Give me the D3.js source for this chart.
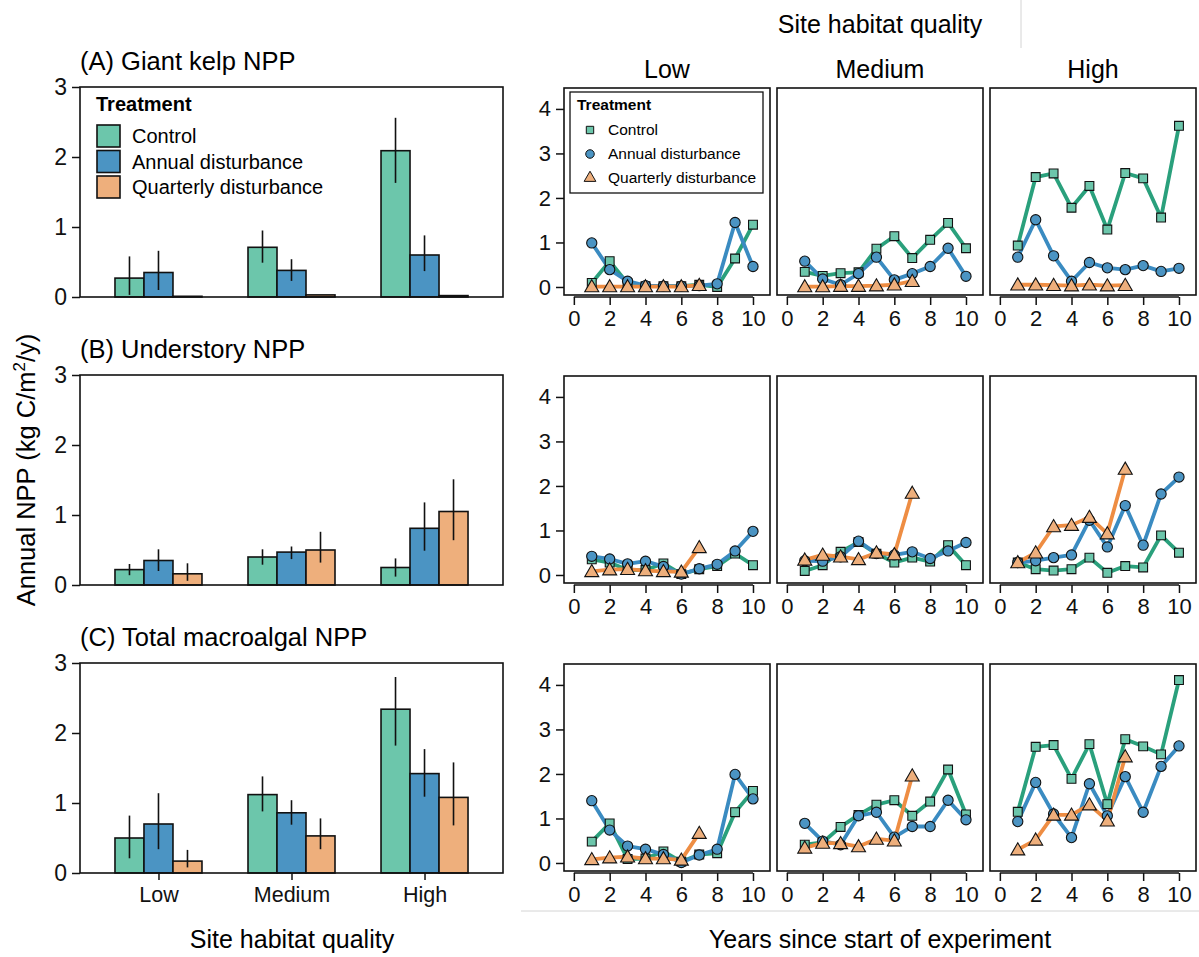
<!DOCTYPE html>
<html>
<head>
<meta charset="utf-8">
<script src="https://d3js.org/d3.v7.min.js"></script>
<style>
  body { margin: 0; background: #fff; }
  svg, svg text { font-family: "Liberation Sans", Arial, Helvetica, sans-serif; }
</style>
</head>
<body>
<div id="chart"></div>
<script>
// ---- data ----
const sites = ["Low", "Medium", "High"];
const treatments = ["Control", "Annual disturbance", "Quarterly disturbance"];
const panelTitles = ["(A) Giant kelp NPP", "(B) Understory NPP", "(C) Total macroalgal NPP"];
const years = [1, 2, 3, 4, 5, 6, 7, 8, 9, 10];
const barTicks = [0, 1, 2, 3];
const lineYTicks = [0, 1, 2, 3, 4];
const lineXTicks = [0, 2, 4, 6, 8, 10];

// bar means [site][treatment], and error bar ends
const kelpMean = [[0.27, 0.35, 0.01], [0.71, 0.38, 0.03], [2.09, 0.60, 0.02]];
const kelpLo   = [[0.03, 0.10, 0.01], [0.49, 0.23, 0.03], [1.63, 0.37, 0.02]];
const kelpHi   = [[0.58, 0.66, 0.01], [0.95, 0.54, 0.03], [2.56, 0.88, 0.02]];
const underMean = [[0.22, 0.35, 0.16], [0.40, 0.47, 0.50], [0.25, 0.81, 1.05]];
const underLo   = [[0.14, 0.20, 0.06], [0.29, 0.37, 0.32], [0.12, 0.49, 0.64]];
const underHi   = [[0.30, 0.51, 0.31], [0.51, 0.55, 0.76], [0.38, 1.18, 1.51]];
const totalMean = [[0.50, 0.70, 0.17], [1.12, 0.86, 0.53], [2.34, 1.42, 1.08]];
const totalLo   = [[0.21, 0.34, 0.08], [0.88, 0.69, 0.34], [1.82, 1.09, 0.68]];
const totalHi   = [[0.82, 1.14, 0.33], [1.38, 1.04, 0.78], [2.80, 1.77, 1.58]];

// yearly series [site] -> [control, annual, quarterly(years 1-7)]
const kelpYears = [
  [[0.09, 0.58, 0.08, 0.02, 0.02, 0.02, 0.05, 0.00, 0.64, 1.40],
   [0.99, 0.39, 0.13, 0.03, 0.02, 0.02, 0.03, 0.07, 1.45, 0.46],
   [0.01, 0.01, 0.01, 0.01, 0.01, 0.01, 0.04]],
  [[0.34, 0.25, 0.31, 0.33, 0.86, 1.14, 0.65, 1.06, 1.44, 0.87],
   [0.58, 0.18, 0.05, 0.30, 0.67, 0.16, 0.30, 0.46, 0.87, 0.24],
   [0.01, 0.01, 0.02, 0.02, 0.03, 0.05, 0.13]],
  [[0.93, 2.47, 2.55, 1.78, 2.27, 1.29, 2.56, 2.44, 1.56, 3.62],
   [0.67, 1.51, 0.70, 0.13, 0.55, 0.43, 0.39, 0.48, 0.35, 0.42],
   [0.05, 0.05, 0.04, 0.03, 0.05, 0.03, 0.04]]
];
const underYears = [
  [[0.35, 0.28, 0.11, 0.11, 0.26, 0.02, 0.13, 0.20, 0.48, 0.22],
   [0.42, 0.36, 0.25, 0.31, 0.19, 0.02, 0.14, 0.24, 0.54, 0.98],
   [0.08, 0.12, 0.13, 0.10, 0.08, 0.07, 0.62]],
  [[0.09, 0.22, 0.52, 0.74, 0.48, 0.28, 0.39, 0.30, 0.67, 0.22],
   [0.32, 0.31, 0.41, 0.76, 0.48, 0.45, 0.52, 0.37, 0.54, 0.73],
   [0.34, 0.45, 0.41, 0.35, 0.50, 0.46, 1.84]],
  [[0.28, 0.13, 0.10, 0.13, 0.39, 0.05, 0.20, 0.17, 0.89, 0.50],
   [0.28, 0.32, 0.39, 0.45, 1.23, 0.63, 1.56, 0.67, 1.82, 2.20],
   [0.28, 0.50, 1.09, 1.12, 1.30, 0.93, 2.38]]
];
const totalYears = [
  [[0.48, 0.89, 0.09, 0.10, 0.26, 0.03, 0.19, 0.22, 1.14, 1.62],
   [1.40, 0.74, 0.38, 0.31, 0.19, 0.01, 0.18, 0.31, 1.99, 1.44],
   [0.08, 0.12, 0.14, 0.10, 0.10, 0.07, 0.67]],
  [[0.41, 0.46, 0.81, 1.08, 1.31, 1.41, 1.06, 1.38, 2.10, 1.09],
   [0.89, 0.49, 0.41, 1.06, 1.14, 0.58, 0.82, 0.82, 1.41, 0.97],
   [0.34, 0.45, 0.44, 0.37, 0.54, 0.50, 1.96]],
  [[1.15, 2.61, 2.65, 1.89, 2.67, 1.32, 2.78, 2.62, 2.44, 4.11],
   [0.93, 1.81, 1.10, 0.57, 1.78, 1.06, 1.94, 1.14, 2.17, 2.63],
   [0.30, 0.52, 1.08, 1.08, 1.31, 0.95, 2.39]]
];

const fillCol = ["#6cc6ab", "#4b94c3", "#eeaf7c"];
const lineCol = ["#2aa07c", "#3a8bc1", "#ee8d43"];

const barSets = [
  {mean: kelpMean, lo: kelpLo, hi: kelpHi},
  {mean: underMean, lo: underLo, hi: underHi},
  {mean: totalMean, lo: totalLo, hi: totalHi}
];
const lineSets = [kelpYears, underYears, totalYears];

// ---- layout ----
const W = 1199, H = 957;
const rowTops = [87, 375, 663];
const barH = 210, barL = 80, barR = 503;
const lineTops = [88, 376, 664];
const lineH = 207, lineW = 206;
const colLefts = [564, 777, 990];
const FONT = "Liberation Sans, Arial, Helvetica, sans-serif";

const svg = d3.select("#chart").append("svg")
  .attr("width", W).attr("height", H);

function styleAxis(a, size) {
  a.attr("font-family", FONT).attr("font-size", size);
  a.select(".domain").remove();
  a.selectAll("line").attr("stroke", "#111").attr("stroke-width", 1.5);
  a.selectAll("text").attr("fill", "#111");
}

// ---- left bar panels ----
const xs = d3.scalePoint(sites, [barL, barR]).padding(0.59);
const xin = d3.scaleBand(treatments, [-43.5, 43.5]);

barSets.forEach(function(set, r) {
  const top = rowTops[r], bot = top + barH;
  const ys = d3.scaleLinear([0, 3], [bot, top]);
  const g = svg.append("g");

  g.append("text").attr("x", barL).attr("y", top - 17)
    .style("font-size", "25.5px").text(panelTitles[r]);

  sites.forEach(function(s, i) {
    treatments.forEach(function(t, j) {
      const v = set.mean[i][j];
      g.append("rect")
        .attr("x", xs(s) + xin(t)).attr("width", xin.bandwidth())
        .attr("y", ys(v)).attr("height", ys(0) - ys(v))
        .attr("fill", fillCol[j]).attr("stroke", "#111").attr("stroke-width", 1.6);
      g.append("line")
        .attr("x1", xs(s) + xin(t) + xin.bandwidth() / 2)
        .attr("x2", xs(s) + xin(t) + xin.bandwidth() / 2)
        .attr("y1", ys(set.lo[i][j])).attr("y2", ys(set.hi[i][j]))
        .attr("stroke", "#111").attr("stroke-width", 1.6);
    });
  });

  g.append("rect").attr("x", barL).attr("y", top)
    .attr("width", barR - barL).attr("height", barH)
    .attr("fill", "none").attr("stroke", "#111").attr("stroke-width", 1.6);

  const ya = g.append("g").attr("transform", "translate(" + barL + ",0)")
    .call(d3.axisLeft(ys).tickValues(barTicks).tickFormat(d3.format("d"))
      .tickSize(8).tickSizeOuter(0).tickPadding(5));
  styleAxis(ya, 23);

  if (r === 2) {
    const xa = g.append("g").attr("transform", "translate(0," + bot + ")")
      .call(d3.axisBottom(xs).tickSize(7).tickSizeOuter(0).tickPadding(7));
    styleAxis(xa, 21.5);
  }

  if (r === 0) {
    const lg = g.append("g").attr("transform", "translate(96," + (top + 24) + ")");
    lg.append("text").attr("x", 0).attr("y", 0)
      .style("font-size", "20px").style("font-weight", "bold").text("Treatment");
    treatments.forEach(function(t, j) {
      lg.append("rect").attr("x", 1).attr("y", 14 + j * 25.5)
        .attr("width", 23).attr("height", 22)
        .attr("fill", fillCol[j]).attr("stroke", "#111").attr("stroke-width", 1.6);
      lg.append("text").attr("x", 36).attr("y", 32 + j * 25.5)
        .style("font-size", "20px").text(t);
    });
  }
});

svg.append("text").attr("x", 292).attr("y", 948)
  .attr("text-anchor", "middle").style("font-size", "25px").text("Site habitat quality");

const yl = svg.append("text")
  .attr("transform", "translate(35,470) rotate(-90)")
  .attr("text-anchor", "middle").style("font-size", "25.5px");
yl.append("tspan").text("Annual NPP (kg C/m");
yl.append("tspan").attr("dy", -10).style("font-size", "17px").text("2");
yl.append("tspan").attr("dy", 10).text("/y)");

// ---- right line panels ----
const sym = [d3.symbolSquare, d3.symbolCircle, d3.symbolTriangle];
const symSize = [78, 82, 85];

lineSets.forEach(function(set, r) {
  const top = lineTops[r], bot = top + lineH;
  const ys = d3.scaleLinear([-0.18, 4.47], [bot, top]);
  sites.forEach(function(s, c) {
    const left = colLefts[c];
    const xl = d3.scaleLinear([-0.55, 10.95], [left, left + lineW]);
    const g = svg.append("g");
    const line = d3.line().x(function(d, i) { return xl(years[i]); })
      .y(function(d) { return ys(d); });

    set[c].forEach(function(vals, j) {
      g.append("path").datum(vals).attr("d", line)
        .attr("fill", "none").attr("stroke", lineCol[j])
        .attr("stroke-width", 3.8).attr("stroke-linejoin", "round");
    });
    set[c].forEach(function(vals, j) {
      g.selectAll(null).data(vals).enter().append("path")
        .attr("transform", function(d, i) {
          return "translate(" + xl(years[i]) + "," + (ys(d) + (j === 2 ? 1.2 : 0)) + ")";
        })
        .attr("d", d3.symbol(sym[j], symSize[j]))
        .attr("fill", fillCol[j]).attr("stroke", "#111").attr("stroke-width", 1.1);
    });

    g.append("rect").attr("x", left).attr("y", top)
      .attr("width", lineW).attr("height", lineH)
      .attr("fill", "none").attr("stroke", "#111").attr("stroke-width", 1.6);

    const xa = g.append("g").attr("transform", "translate(0," + (bot + 2) + ")")
      .call(d3.axisBottom(xl).tickValues(lineXTicks).tickSize(8).tickSizeOuter(0).tickPadding(5));
    styleAxis(xa, 22);
    xa.append("line").attr("x1", xl(0)).attr("x2", xl(10))
      .attr("stroke", "#111").attr("stroke-width", 1.5);

    if (c === 0) {
      const ya = g.append("g").attr("transform", "translate(" + left + ",0)")
        .call(d3.axisLeft(ys).tickValues(lineYTicks).tickFormat(d3.format("d"))
          .tickSize(8).tickSizeOuter(0).tickPadding(5));
      styleAxis(ya, 22);
    }

    if (r === 0) {
      svg.append("text").attr("x", left + lineW / 2).attr("y", top - 10)
        .attr("text-anchor", "middle").style("font-size", "25px").text(s);
    }

    if (r === 0 && c === 0) {
      const lg = g.append("g");
      lg.append("rect").attr("x", left + 6).attr("y", top + 4)
        .attr("width", 193).attr("height", 101)
        .attr("fill", "#fff").attr("stroke", "#111").attr("stroke-width", 1.3);
      lg.append("text").attr("x", left + 13).attr("y", top + 22)
        .style("font-size", "15.5px").style("font-weight", "bold").text("Treatment");
      treatments.forEach(function(t, j) {
        const yy = top + 42 + j * 24;
        lg.append("path").attr("transform", "translate(" + (left + 26) + "," + yy + ")")
          .attr("d", d3.symbol(sym[j], symSize[j] * 0.7))
          .attr("fill", fillCol[j]).attr("stroke", "#111").attr("stroke-width", 1);
        lg.append("text").attr("x", left + 44).attr("y", yy + 5)
          .style("font-size", "15.5px").text(t);
      });
    }
  });
});

svg.append("text").attr("x", 880).attr("y", 33)
  .attr("text-anchor", "middle").style("font-size", "25px").text("Site habitat quality");
svg.append("text").attr("x", 880).attr("y", 948)
  .attr("text-anchor", "middle").style("font-size", "25px").text("Years since start of experiment");

// faint separator lines
svg.append("line").attr("x1", 1021).attr("x2", 1021).attr("y1", 0).attr("y2", 48)
  .attr("stroke", "#d4d4d4").attr("stroke-width", 1);
svg.append("line").attr("x1", 521).attr("x2", W).attr("y1", 911).attr("y2", 911)
  .attr("stroke", "#d4d4d4").attr("stroke-width", 1);
</script>
</body>
</html>
